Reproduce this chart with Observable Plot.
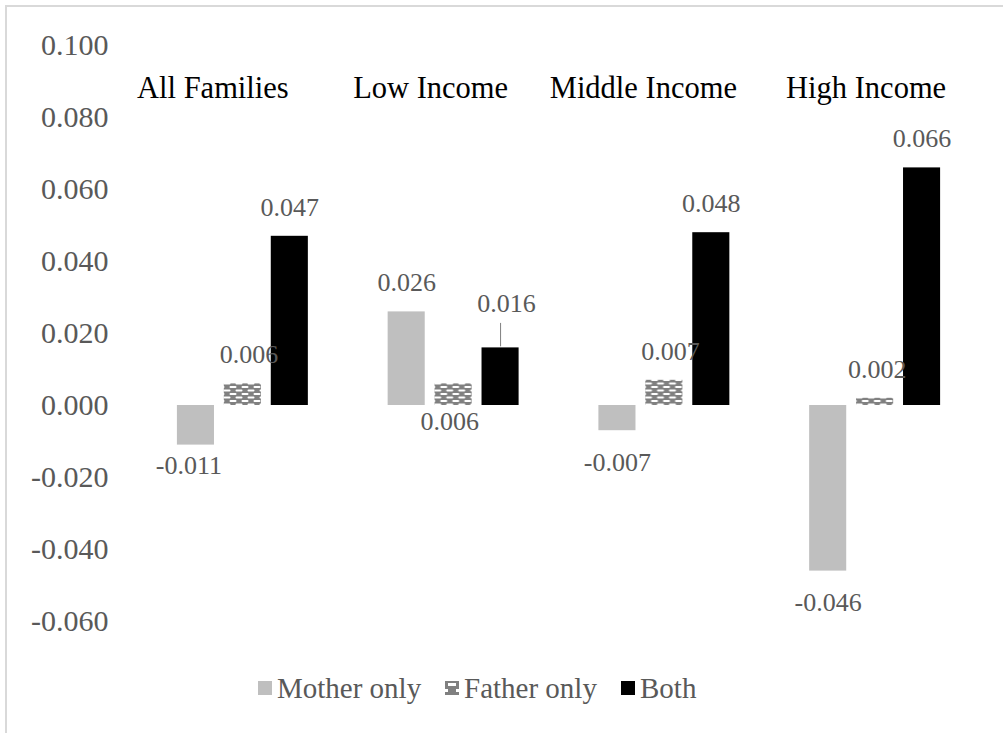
<!DOCTYPE html>
<html>
<head>
<meta charset="utf-8">
<script src="https://cdn.jsdelivr.net/npm/d3@7"></script>
<script src="https://cdn.jsdelivr.net/npm/@observablehq/plot@0.6"></script>
<style>
  html, body { margin: 0; padding: 0; background: #fff; }
  body { width: 1003px; height: 733px; position: relative; overflow: hidden; font-family: "Liberation Serif", "Times New Roman", serif; }
  #frameTop { position: absolute; left: 5px; top: 5px; width: 998px; height: 2px; background: #d9d9d9; }
  #frameLeft { position: absolute; left: 5px; top: 5px; width: 2px; height: 728px; background: #d9d9d9; }
  #chart { position: absolute; left: 0; top: 0; }
  #legend { position: absolute; left: 0; top: 668px; width: 1003px; height: 40px; }
  .item { position: absolute; top: 0; display: flex; align-items: center; height: 40px; font-size: 29px; color: #595959; }
  .sw { width: 14px; height: 14px; margin-right: 5px; display: inline-block; }
  #chart svg text { font-family: "Liberation Serif", "Times New Roman", serif; }
</style>
</head>
<body>
<div id="frameTop"></div>
<div id="frameLeft"></div>
<div id="chart"></div>
<div id="legend"></div>
<script>
// ---- data ----
const groups = ["All Families", "Low Income", "Middle Income", "High Income"];
const series = ["Mother only", "Father only", "Both"];
const motherOnly = [-0.011, 0.026, -0.007, -0.046];
const fatherOnly = [0.006, 0.006, 0.007, 0.002];
const both = [0.047, 0.016, 0.048, 0.066];
const yTicks = [-0.06, -0.04, -0.02, 0, 0.02, 0.04, 0.06, 0.08, 0.1];

// ---- styling ----
const FONT = '"Liberation Serif", "Times New Roman", serif';
const colors = ["#bfbfbf", "url(#brick)", "#000000"];
const fmt = v => v.toFixed(3); // hyphen-minus like the original
// horizontal nudges (pixels) of the group titles
const groupTitleDx = {"All Families": -30, "Low Income": -23, "Middle Income": -21, "High Income": -9};
// label offsets (pixels) for individual value labels
const labelTweaks = {
  "All Families|Mother only": {dx: -7, dy: 21},
  "All Families|Father only": {dx: 6},
  "Low Income|Father only": {dx: -4, dy: 38},
  "Low Income|Both": {dx: 6, dy: -44, leader: true},
  "Middle Income|Father only": {dx: 6},
  "High Income|Father only": {dx: 2}
};

const rows = [];
groups.forEach((g, i) => {
  rows.push({group: g, series: series[0], value: motherOnly[i]});
  rows.push({group: g, series: series[1], value: fatherOnly[i]});
  rows.push({group: g, series: series[2], value: both[i]});
});

const labelMarks = rows.map(d => {
  const t = labelTweaks[d.group + "|" + d.series] || {};
  const dy = t.dy !== undefined ? t.dy : (d.value >= 0 ? -29 : 32);
  return Plot.text([d], {
    fx: "group", x: "series", y: "value",
    text: v => fmt(v.value),
    dx: t.dx || 0, dy,
    fill: "#595959", fontSize: 26, fontFamily: FONT
  });
});

const titleMarks = groups.map(g => Plot.text([g], {
  fx: d => d, text: d => d, frameAnchor: "top", lineAnchor: "middle", dy: 43, dx: groupTitleDx[g],
  fontSize: 30.5, fill: "#000", fontFamily: FONT
}));

const leaders = rows.filter(d => (labelTweaks[d.group + "|" + d.series] || {}).leader);

const chart = Plot.plot({
  width: 1003,
  height: 660,
  marginTop: 45,
  marginBottom: 39,
  marginLeft: 137,
  marginRight: 23,
  style: {fontFamily: FONT, background: "transparent", overflow: "visible"},
  fx: {domain: groups, padding: 0, round: false, axis: null},
  x: {domain: series, paddingInner: 0.21, paddingOuter: 0.85, round: false, axis: null},
  y: {domain: [-0.06, 0.1], label: null, axis: null},
  color: {domain: series, range: colors},
  marks: [
    Plot.axisY({ticks: yTicks, tickFormat: fmt, tickSize: 0, tickPadding: 29, label: null, fontSize: 30, fill: "#595959", fontFamily: FONT}),
    Plot.barY(rows, {fx: "group", x: "series", y: "value", fill: "series"}),
    Plot.ruleX(leaders, {fx: "group", x: "series", y1: d => d.value + 0.0003, y2: d => d.value + 0.0068, stroke: "#7f7f7f", strokeWidth: 1}),
    ...labelMarks,
    ...titleMarks
  ]
});

// brick pattern for "Father only"
const ns = "http://www.w3.org/2000/svg";
function addPattern(svg) {
  const defs = document.createElementNS(ns, "defs");
  defs.innerHTML = `<pattern id="brick" patternUnits="userSpaceOnUse" width="12" height="7">
      <rect width="12" height="7" fill="#808080"/>
      <rect x="1.5" y="1" width="7" height="2" rx="1" fill="#ffffff"/>
      <rect x="-4.5" y="4.5" width="7" height="2" rx="1" fill="#ffffff"/>
      <rect x="7.5" y="4.5" width="7" height="2" rx="1" fill="#ffffff"/>
    </pattern>`;
  svg.insertBefore(defs, svg.firstChild);
}
addPattern(chart);
document.getElementById("chart").appendChild(chart);

// legend
const legend = document.getElementById("legend");
const legendX = [258, 445, 621];
series.forEach((s, i) => {
  const item = document.createElement("div");
  item.className = "item";
  item.style.left = legendX[i] + "px";
  const sw = document.createElementNS(ns, "svg");
  sw.setAttribute("width", 14); sw.setAttribute("height", 14);
  sw.setAttribute("class", "sw");
  if (i === 1) {
    sw.innerHTML = `<defs><pattern id="brickL" patternUnits="userSpaceOnUse" width="14" height="14">
      <rect width="14" height="14" fill="#808080"/>
      <rect x="3" y="2" width="8" height="3" fill="#fff"/>
      <rect x="0" y="8" width="3" height="3" fill="#fff"/>
      <rect x="11" y="8" width="3" height="3" fill="#fff"/></pattern></defs>
      <rect width="14" height="14" fill="url(#brickL)"/>`;
  } else {
    sw.innerHTML = `<rect width="14" height="14" fill="${colors[i]}"/>`;
  }
  item.appendChild(sw);
  const t = document.createElement("span");
  t.textContent = s;
  item.appendChild(t);
  legend.appendChild(item);
});
</script>
</body>
</html>
